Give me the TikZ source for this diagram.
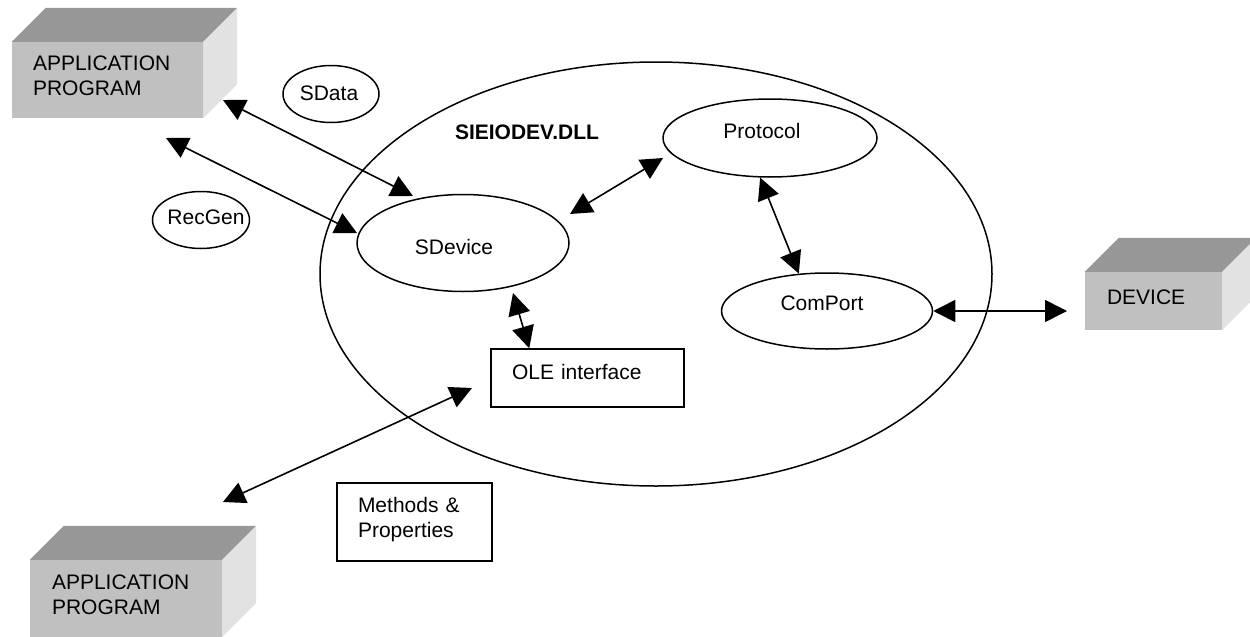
\documentclass[tikz,border=0pt]{standalone}
\usepackage{fontspec}
\setmainfont{Liberation Sans}
\usetikzlibrary{arrows.meta,shapes.geometric,calc}
\definecolor{boxtop}{HTML}{979797}
\definecolor{boxfront}{HTML}{C0C0C0}
\definecolor{boxside}{HTML}{E2E2E2}
% top and right faces of a bevelled box whose front face is node #1
\newcommand\drawboxfaces[1]{%
  \fill[boxtop] (#1.north west) -- ++(34,-34) -- ($(#1.north east)+(34,-34)$) -- (#1.north east) -- cycle;
  \fill[boxside] (#1.north east) -- ++(34,-34) -- ($(#1.south east)+(34,-34)$) -- (#1.south east) -- cycle;}
\begin{document}
\begin{tikzpicture}[x=1pt,y=-1pt,
  every node/.style={font=\fontsize{21}{25}\selectfont},
  bubble/.style={draw, ellipse, line width=1.5pt, inner sep=0pt},
  frame/.style={draw, rectangle, line width=1.5pt, align=left, inner ysep=0pt, inner xsep=21pt},
  front/.style={fill=boxfront, rectangle, align=left, inner ysep=0pt, inner xsep=22pt},
  link/.style={line width=1.6pt, {Triangle[length=22pt,width=22pt]}-{Triangle[length=22pt,width=22pt]}},
]
\useasboundingbox (0,0) rectangle (1250,637);

% the DLL boundary
\node[bubble, minimum width=672pt, minimum height=424pt] (dll) at (656,274) {};
\node[font=\fontsize{21}{25}\selectfont\bfseries] (dllname) at (527,132) {SIEIODEV.DLL};

% application and device boxes
\node[front, minimum width=191pt, minimum height=76pt, text width=149pt, inner xsep=21pt] (app1) at (107.5,80)
  {APPLICATION\\PROGRAM\rule[-9pt]{0pt}{9pt}};
\drawboxfaces{app1}
\node[front, minimum width=137pt, minimum height=58pt, text width=93pt] (dev) at (1153.5,301)
  {DEVICE\rule[-8pt]{0pt}{8pt}};
\drawboxfaces{dev}
\node[front, minimum width=192pt, minimum height=77pt, text width=148pt] (app2) at (126,598.5)
  {APPLICATION\\PROGRAM\rule[-7pt]{0pt}{7pt}};
\drawboxfaces{app2}

% objects
\node[bubble, minimum width=96pt, minimum height=57pt,
  label={[xshift=-2pt,yshift=1pt]center:SData}] (sdata) at (331,94) {};
\node[bubble, minimum width=97pt, minimum height=57pt,
  label={[xshift=5pt,yshift=3pt]center:RecGen}] (recgen) at (201,220) {};
\node[bubble, minimum width=212pt, minimum height=97pt,
  label={[xshift=-9pt,yshift=-4pt]center:SDevice}] (sdev) at (463,243) {};
\node[bubble, minimum width=214pt, minimum height=78pt,
  label={[xshift=-8pt,yshift=7pt]center:Protocol}] (prot) at (770,138) {};
\node[bubble, minimum width=211pt, minimum height=76pt,
  label={[xshift=-5pt,yshift=8pt]center:ComPort}] (cport) at (827,311) {};

% interface boxes
\node[frame, minimum width=193pt, minimum height=58pt, text width=151pt] (ole) at (587.5,378)
  {OLE interface\rule[-12pt]{0pt}{12pt}};
\node[frame, minimum width=155pt, minimum height=78pt, text width=113pt] (meth) at (414.5,522)
  {Methods \&\\Properties\rule[-8.6pt]{0pt}{8.6pt}};

% connector ends
\coordinate (a1end) at (223,100);
\coordinate (sdevA) at (413,196);
\coordinate (a1low) at (166,138);
\coordinate (sdevB) at (357,233);
\coordinate (sdevR) at (570,214);
\coordinate (protL) at (663,158);
\coordinate (sdevD) at (513,293);
\coordinate (devend) at (1067,311);
\coordinate (oleL) at (472,388);
\coordinate (a2end) at (223,502);

% connectors
\draw[link] (a1end) -- (sdevA);
\draw[link] (a1low) -- (sdevB);
\draw[link] (sdevR) -- (protL);
\draw[link] (prot.256) -- (cport.127);
\draw[link] (sdevD) -- ($(ole.north west)+(39,0)$);
\draw[link] (cport.east) -- (devend);
\draw[link] (oleL) -- (a2end);
\end{tikzpicture}
\end{document}
